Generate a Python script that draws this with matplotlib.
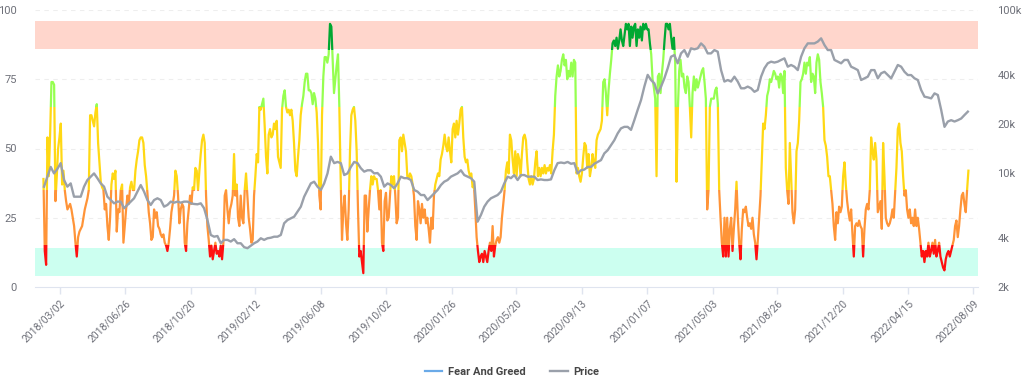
import pandas as pd
import numpy as np
import matplotlib.pyplot as plt
import matplotlib.dates as mdates
from matplotlib.patches import Rectangle
from matplotlib.lines import Line2D

plt.rcParams['font.family'] = ['Roboto', 'DejaVu Sans']

# Fear & Greed index (roughly every 2-3 days)
fg_values = [
    39, 13, 8, 54, 40, 55, 74, 74, 73, 31, 40, 50, 54, 59, 37, 42, 35, 31, 28, 29,
    30, 28, 25, 22, 16, 11, 18, 20, 21, 22, 25, 28, 30, 32, 35, 62, 62, 60, 58, 63,
    66, 52, 45, 38, 36, 35, 28, 30, 22, 17, 25, 37, 41, 39, 42, 20, 28, 27, 35, 37,
    16, 22, 28, 33, 30, 36, 38, 35, 35, 42, 46, 49, 53, 54, 54, 52, 44, 40, 34, 27,
    23, 17, 18, 28, 25, 27, 22, 21, 19, 18, 19, 16, 15, 13, 16, 21, 27, 30, 33, 42,
    40, 33, 23, 28, 30, 29, 16, 13, 23, 28, 33, 30, 36, 35, 43, 42, 35,
    42, 48, 53, 55, 52, 33, 22, 17, 11, 15, 10, 13, 16, 12, 13, 11, 15, 10, 16, 33,
    35, 28, 23, 28, 30, 33, 48, 33, 37, 25, 22, 33, 25, 23, 35, 41, 33, 25, 21, 16,
    17, 33, 40, 48, 45, 65, 64, 66, 68, 58, 47, 41, 55, 57, 54, 55, 59, 57, 60, 47,
    45, 43, 64, 69, 71, 65, 63, 64, 62, 64, 60, 52, 42, 40, 47, 53, 62, 66, 69, 74,
    77, 77, 71, 71, 70, 66, 70, 68, 63, 52, 33, 28, 62, 76, 83, 83, 81, 84, 95, 94,
    82, 70, 75, 80, 84, 65, 39, 17, 28, 33, 23, 17, 28, 49, 62, 64,
    65, 60, 49, 28, 11, 13, 9, 5, 33, 33, 20, 28, 35, 40, 37, 40, 39, 39, 35, 28,
    35, 16, 13, 31, 34, 24, 25, 33, 40, 37, 40, 33, 23, 25, 53, 54, 49, 55, 52, 49,
    40, 39, 41, 40, 37, 33, 22, 17, 31, 28, 23, 30, 25, 28, 23, 25, 21, 16, 25, 21,
    33, 37, 39, 41, 40, 46, 48, 51, 55, 51, 49, 54, 49, 45, 57, 59, 54, 60, 55, 59,
    64, 65, 54, 47, 45, 46, 42, 40, 41, 36, 37, 28, 18, 13, 9, 11, 12, 9, 13, 11,
    9, 13, 16, 13, 22, 11, 15, 17, 18, 16, 18, 25, 30, 35, 42, 45, 41, 55, 53, 46,
    41, 49, 40, 48, 46, 40, 48, 54, 55, 53, 45, 39, 37, 40, 37, 39, 45, 49, 40, 43,
    40, 43, 41, 44, 41, 43, 42, 44, 41, 49, 55, 69, 76, 80, 76, 78, 82, 84, 80, 82,
    75, 78, 76, 81, 76, 82, 81, 41, 43, 40, 38, 41, 47, 52, 51, 43, 48, 40, 43, 48,
    45, 43, 53, 55, 56, 57, 60, 74, 75, 70, 62, 71, 77, 82, 88, 89, 87, 90, 86, 89,
    93, 89, 87, 91, 95, 93, 95, 87, 94, 90, 94, 95, 87, 93, 90, 94, 89, 95, 93, 95,
    93, 93, 88, 84, 75, 72, 68, 40, 76, 77, 70, 77, 82, 89, 95, 95, 93, 95, 90, 86,
    90, 81, 38, 64, 78, 82, 76, 77, 72, 70, 76, 74, 65, 54, 70, 76, 71, 75, 72, 74,
    76, 78, 79, 74, 68, 28, 35, 65, 68, 68, 68, 71, 72, 66, 35, 25, 16, 11, 25, 11,
    25, 11, 21, 25, 13, 21, 28, 38, 25, 16, 10, 21, 28, 27, 29, 25, 22, 23, 21, 25,
    19, 16, 10, 17, 25, 33, 46, 59, 57, 62, 69, 71, 75, 74, 76, 78, 77, 75, 76, 72,
    77, 76, 70, 78, 43, 35, 30, 52, 40, 27, 23, 28, 49, 52, 60, 74, 75, 77, 81, 77,
    81, 80, 83, 74, 77, 76, 70, 81, 84, 82, 74, 70, 65, 53, 51, 47, 40,
    40, 35, 30, 22, 17, 27, 23, 29, 27, 29, 40, 45, 37, 31, 27, 24, 28, 19, 11, 22,
    23, 22, 24, 22, 21, 11, 21, 28, 30, 28, 35, 54, 49, 46, 52, 46, 27, 29, 31, 21,
    52, 40, 25, 23, 22, 23, 25, 28, 25, 34, 43, 57, 59, 52, 49, 40, 33, 35, 28, 25,
    28, 23, 25, 22, 28, 22, 25, 21, 16, 11, 13, 9, 13, 11, 16, 11, 13, 16, 12, 17,
    11, 13, 16, 11, 9, 7, 6, 10, 12, 13, 11, 13, 15, 17, 22, 24, 18, 22, 28, 33,
    34, 30, 27, 35, 42,
]

# BTC price in USD (roughly every 6 days)
price_values = [
    8250, 9500, 10900, 9950, 10600, 11500, 9060, 8250, 8640, 7160,
    7160, 7160, 8250, 9060, 9500, 9950, 9300, 8640, 8250, 7160,
    6830, 6520, 6680, 6680, 6080, 6370, 6680, 7000, 7690, 8440,
    7690, 6830, 6370, 6830, 7000, 6830, 6220, 6370, 6680, 6580,
    6680, 6580, 6680, 6680, 6520, 6460, 6430,
    6520, 6080, 5150, 4170, 4070, 4110, 3710, 3890, 3890, 3800,
    3930, 3710, 3710, 3510, 3460, 3580, 3710, 3800, 3980, 3890,
    3980, 4010, 4070, 4070, 4170, 4920, 5150, 5270, 5400, 5800,
    6220, 7160, 7870, 8640, 8850, 8250, 7870, 8640, 9950, 12600,
    11500, 11700, 11500, 9720, 9950, 10900, 11700, 11500,
    10700, 10200, 10400, 10400, 9950, 10000, 9500, 8250, 8640, 8440,
    8060, 8640, 9500, 9300, 9300, 9060, 7870, 7690, 7330, 7330,
    6830, 7160, 7510, 7870, 8440, 8850, 9060, 9500, 9720, 9950,
    10400, 9720, 9500, 9300, 8850, 5030, 5530, 6220, 6680, 7000,
    7160, 7330, 7690, 8640, 9500, 9300, 9720, 9060,
    9720, 9720, 9500, 9500, 9500, 9060, 9140, 9060, 9060, 9140,
    10400, 11500, 11600, 11500, 11700, 11400, 11500, 9950, 10400, 10500,
    10900, 10900, 11400, 11700, 12000, 13200, 13800, 14800, 15900, 17500,
    18800, 19200, 19200, 18400, 21100, 24400, 28000, 33900, 40000, 37200,
    35500, 30800, 33900, 38100, 43900, 51700, 52900, 47100,
    54200, 56800, 51700, 58200, 57400, 58200, 62400, 59600, 54200, 54200,
    56800, 55500, 42800, 36400, 37200, 36400, 39000, 36400, 33100, 33100,
    33900, 33100, 31500, 32300, 39000, 43900, 47100, 48200, 47600, 48200,
    49400, 50500, 44900, 46000, 44900, 42800, 51700, 58200, 62400, 62400,
    62400, 64000, 67000, 61000, 56800, 56800,
    49400, 48200, 47100, 49400, 49400, 44900, 43900, 42800, 37200, 38100,
    39000, 42800, 42800, 38100, 40900, 41800, 39900, 38100, 41800, 46000,
    44900, 41800, 39900, 39900, 38100, 37200, 32300, 29400, 29100, 28700,
    30800, 30100, 24400, 19200, 20700, 21100, 20700, 21100, 21600, 22700,
    23800,
]

fg_dates = pd.date_range('2018-02-01', '2022-07-31', periods=len(fg_values))
price_dates = pd.date_range('2018-02-02', '2022-07-30', periods=len(price_values))

tick_labels = ['2018/03/02', '2018/06/26', '2018/10/20', '2019/02/12', '2019/06/08',
               '2019/10/02', '2020/01/26', '2020/05/20', '2020/09/13', '2021/01/07',
               '2021/05/03', '2021/08/26', '2021/12/20', '2022/04/15', '2022/08/09']

# value bands -> line colour
bands = [(-5, 15, '#ff1010'), (15, 35, '#ff9438'), (35, 65, '#ffd814'),
         (65, 85.5, '#96ff50'), (85.5, 105, '#00a832')]

fig = plt.figure(figsize=(10.24, 3.81), dpi=100)
ax = fig.add_axes([35 / 1024, 1 - 287 / 381, 943 / 1024, 277 / 381])

x0 = mdates.date2num(pd.Timestamp('2018-01-17'))
x1 = mdates.date2num(pd.Timestamp('2022-08-17'))
ax.set_xlim(x0, x1)
ax.set_ylim(0, 100)

# shaded zones
ax.axhspan(86, 96, color='#ffd6cc', lw=0, zorder=0)
ax.axhspan(4, 14, color='#ccfff0', lw=0, zorder=0)

for y in [25, 50, 75, 100]:
    ax.axhline(y, color='#eeeeee', lw=0.8, ls=(0, (4, 4)), zorder=0.5)

# colour the line by clipping one copy per band
for lo, hi, col in bands:
    line, = ax.plot(fg_dates, fg_values, color=col, lw=1.6, zorder=2)
    clip = Rectangle((x0 - 100, lo), x1 - x0 + 200, hi - lo, transform=ax.transData)
    line.set_clip_path(clip)

ax2 = ax.twinx()
ax2.set_yscale('log')
ax2.set_ylim(2000, 100000)
ax2.plot(price_dates, price_values, color='#9aa0aa', lw=1.7, zorder=3)
ax2.set_yticks([2000, 4000, 10000, 20000, 40000, 100000])
ax2.set_yticklabels(['2k', '4k', '10k', '20k', '40k', '100k'])
ax2.yaxis.set_minor_locator(plt.NullLocator())

ax.set_yticks([0, 25, 50, 75, 100])
ax.set_xticks([mdates.date2num(pd.Timestamp(t)) for t in tick_labels])
ax.set_xticklabels(tick_labels, rotation=45, ha='right', rotation_mode='anchor')

for a in (ax, ax2):
    for s in a.spines.values():
        s.set_visible(False)
ax.spines['bottom'].set_visible(True)
ax.spines['bottom'].set_color('#dfe4ef')

ax.tick_params(axis='x', colors='#dfe4ef', length=5, width=1, labelcolor='#6e7079',
               labelsize=7.5, pad=3)
ax.tick_params(axis='y', length=0, labelcolor='#6e7079', labelsize=8, pad=13)
ax2.tick_params(axis='y', length=0, labelcolor='#6e7079', labelsize=8, pad=14)

handles = [Line2D([], [], color='#6aaae8', lw=1.6), Line2D([], [], color='#9aa0aa', lw=1.7)]
fig.legend(handles, ['Fear And Greed', 'Price'], loc='center', bbox_to_anchor=(0.5, 1 - 372 / 381),
           ncol=2, frameon=False, handlelength=1.6, columnspacing=2.2, handletextpad=0.5,
           prop={'weight': 'bold', 'size': 8}, labelcolor='#464646')

fig.savefig('out.png', dpi=100)
